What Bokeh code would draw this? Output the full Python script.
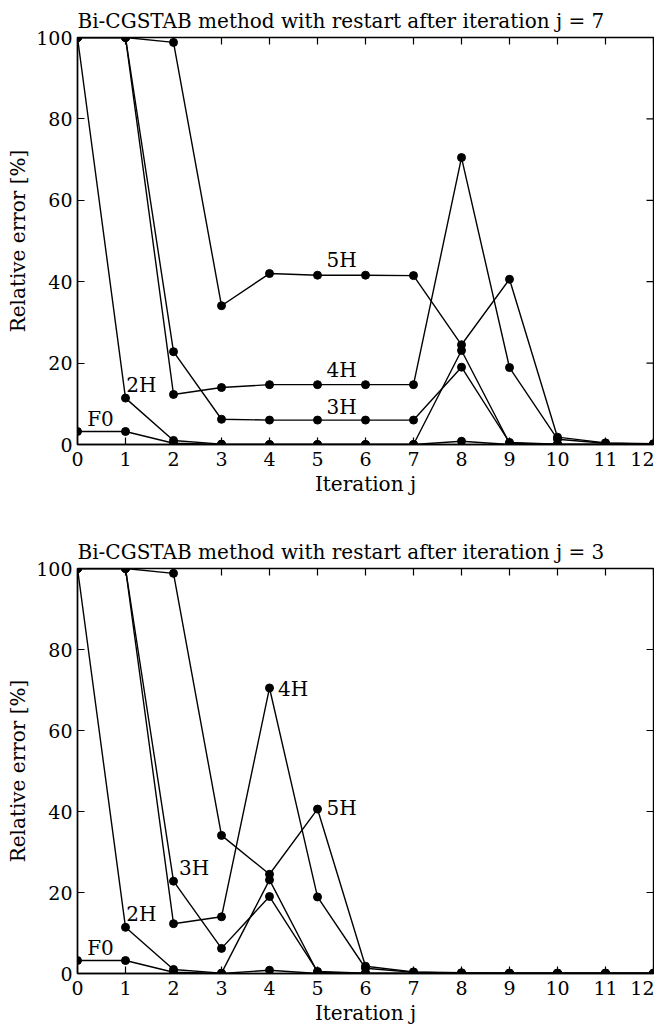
from bokeh.plotting import figure
from bokeh.models import FixedTicker, Range1d, Label
from bokeh.layouts import column
from bokeh.embed import file_html
from bokeh.resources import INLINE

iterations = list(range(13))
x_ticks = list(range(13))
y_ticks = [0, 20, 40, 60, 80, 100]
series_names = ["F0", "2H", "3H", "4H", "5H"]

# Restart after iteration j = 7
top_F0 = [3.2, 3.2, 0.3, 0.0, 0.0, 0.0, 0.0, 0.0, 0.8, 0.0, 0.0, 0.0, 0.0]
top_2H = [100, 11.4, 1.0, 0.1, 0.0, 0.0, 0.0, 0.0, 23.1, 0.3, 0.0, 0.0, 0.0]
top_3H = [100, 100, 22.8, 6.2, 6.0, 6.0, 6.0, 6.0, 19.0, 0.5, 0.1, 0.0, 0.0]
top_4H = [100, 100, 12.3, 14.0, 14.7, 14.7, 14.7, 14.7, 70.5, 18.9, 1.3, 0.3, 0.1]
top_5H = [100, 100, 98.8, 34.1, 42.0, 41.6, 41.6, 41.5, 24.5, 40.6, 1.8, 0.4, 0.2]

# Restart after iteration j = 3
bot_F0 = [3.2, 3.2, 0.3, 0.0, 0.8, 0.0, 0.0, 0.0, 0.0, 0.0, 0.0, 0.0, 0.0]
bot_2H = [100, 11.4, 1.0, 0.1, 23.1, 0.3, 0.0, 0.0, 0.0, 0.0, 0.0, 0.0, 0.0]
bot_3H = [100, 100, 22.8, 6.2, 19.0, 0.5, 0.1, 0.0, 0.0, 0.0, 0.0, 0.0, 0.0]
bot_4H = [100, 100, 12.3, 14.0, 70.5, 18.9, 1.3, 0.3, 0.1, 0.1, 0.1, 0.1, 0.1]
bot_5H = [100, 100, 98.8, 34.1, 24.5, 40.6, 1.8, 0.4, 0.2, 0.1, 0.1, 0.1, 0.1]

top_title = "Bi-CGSTAB method with restart after iteration j = 7"
bot_title = "Bi-CGSTAB method with restart after iteration j = 3"
x_label = "Iteration j"
y_label = "Relative error [%]"

# annotation anchor positions (data coords) for series names
top_label_pos = {"F0": (0.48, 6.3), "2H": (1.33, 14.7), "3H": (5.5, 9.2),
                 "4H": (5.5, 18.4), "5H": (5.5, 45.3)}
bot_label_pos = {"F0": (0.48, 6.3), "2H": (1.33, 14.6), "3H": (2.43, 26.0),
                 "4H": (4.49, 70.3), "5H": (5.5, 40.8)}

FONT = "DejaVu Serif"
TICK_SIZE = "19px"
LABEL_SIZE = "20px"
FRAME_W = 576
TICK_PX = 7


def make_plot(title, series, label_pos, height, border_top, border_bottom, frame_h):
    p = figure(width=654, height=height, output_backend="svg", toolbar_location=None,
               x_range=Range1d(0, 12), y_range=Range1d(0, 100),
               min_border_left=77, min_border_right=1,
               min_border_top=border_top, min_border_bottom=border_bottom)
    p.title.text = title
    p.title.text_font = FONT
    p.title.text_font_size = "20px"
    p.title.text_font_style = "normal"
    p.title.text_color = "black"
    p.title.align = "left"
    p.title.offset = 0
    p.title.standoff = 10
    p.outline_line_color = "black"
    p.outline_line_width = 1.4
    p.grid.visible = False
    p.background_fill_color = "white"
    p.border_fill_color = "white"

    for ax in list(p.xaxis) + list(p.yaxis):
        ax.major_tick_in = TICK_PX
        ax.major_tick_out = 0
        ax.minor_tick_in = 0
        ax.minor_tick_out = 0
        ax.axis_line_width = 1.4
        ax.axis_line_color = "black"
        ax.major_tick_line_color = "black"
        ax.major_tick_line_width = 1.2
        ax.major_label_text_font = FONT
        ax.major_label_text_font_size = TICK_SIZE
        ax.major_label_text_color = "black"
        ax.axis_label_text_font = FONT
        ax.axis_label_text_font_size = LABEL_SIZE
        ax.axis_label_text_font_style = "normal"
        ax.axis_label_text_color = "black"
    p.xaxis.ticker = FixedTicker(ticks=x_ticks)
    p.yaxis.ticker = FixedTicker(ticks=y_ticks)
    p.xaxis.axis_label = x_label
    p.yaxis.axis_label = y_label
    p.xaxis.major_label_standoff = 7
    p.xaxis.axis_label_standoff = 3
    p.yaxis.major_label_standoff = 5
    p.yaxis.axis_label_standoff = 3

    # inward ticks on the top and right edges of the box
    dy = TICK_PX * 100.0 / frame_h
    dx = TICK_PX * 12.0 / FRAME_W
    p.segment(x0=x_ticks, y0=[100] * len(x_ticks), x1=x_ticks,
              y1=[100 - dy] * len(x_ticks), line_color="black", line_width=1.2)
    p.segment(x0=[12] * len(y_ticks), y0=y_ticks, x1=[12 - dx] * len(y_ticks),
              y1=y_ticks, line_color="black", line_width=1.2)

    for name in series_names:
        p.line(iterations, series[name], line_color="black", line_width=1.4)
    for name in series_names:
        p.scatter(iterations, series[name], size=8, marker="circle",
                  fill_color="black", line_color="black")
    for name in series_names:
        lx, ly = label_pos[name]
        p.add_layout(Label(x=lx, y=ly, text=name, text_font=FONT,
                           text_font_size=LABEL_SIZE, text_align="center",
                           text_baseline="middle", text_color="black"))
    return p


top_series = {"F0": top_F0, "2H": top_2H, "3H": top_3H, "4H": top_4H, "5H": top_5H}
bot_series = {"F0": bot_F0, "2H": bot_2H, "3H": bot_3H, "4H": bot_4H, "5H": bot_5H}

p1 = make_plot(top_title, top_series, top_label_pos, 520, 37, 76, 407)
p2 = make_plot(bot_title, bot_series, bot_label_pos, 507, 48, 53, 406)

layout = column(p1, p2, spacing=0)
open("out.html", "w").write(file_html(layout, INLINE))
